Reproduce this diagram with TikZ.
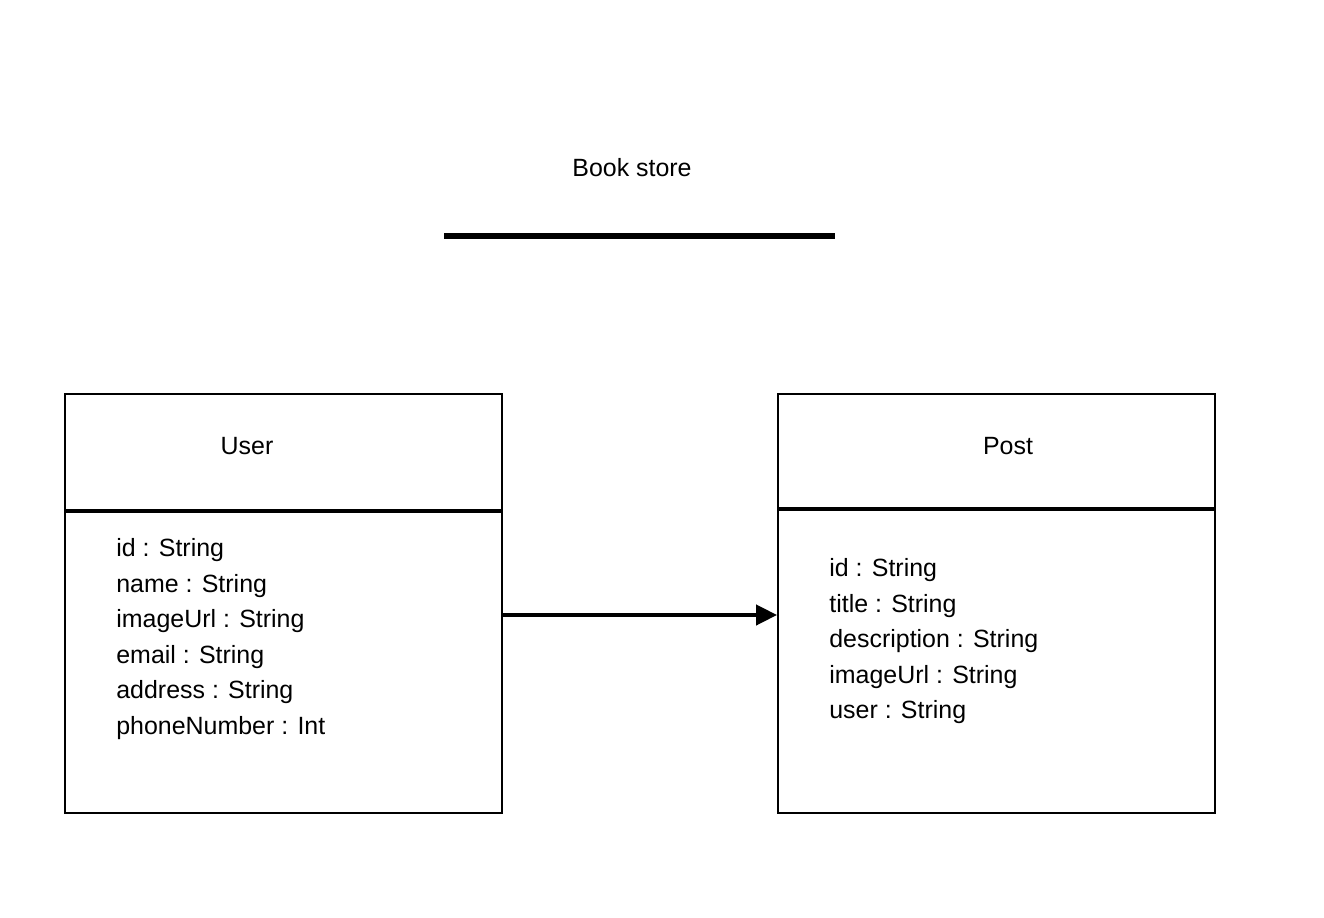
\documentclass[tikz,border=0pt]{standalone}
\usepackage{fontspec}
\setmainfont{Liberation Sans}
\usetikzlibrary{positioning,arrows.meta}

\tikzset{
  classbox/.style={draw, line width=1.1pt, minimum width=8.74cm, minimum height=8.38cm, inner sep=0pt},
  classname/.style={font=\fontsize{14.2pt}{17pt}\selectfont, inner sep=0pt},
  attr/.style={font=\fontsize{14.2pt}{17pt}\selectfont, anchor=west, inner sep=0pt, text height=10pt, text depth=3pt},
  sepline/.style={line width=2.2pt},
  assoc/.style={line width=2.3pt, -{Triangle[length=0.42cm,width=0.4cm]}}
}

\begin{document}
\begin{tikzpicture}[x=0.02cm, y=-0.02cm]
      \useasboundingbox (0,0) rectangle (1324,918);

      % title
      \node[classname] (title) at (632,168) {Book store};
      \coordinate (ruleleft) at (444,236);
      \coordinate (ruleright) at (835,236);
      \draw[line width=3pt] (ruleleft) -- (ruleright);

      % classes
      \node[classbox] (user) at (283.5,603.5) {};
      \node[classbox] (post) at (996.5,603.5) {};

      \node[classname] (username) at (247,446) {User};
      \node[classname] (postname) at (1008,446) {Post};

      \coordinate (usersep) at (0,511);
      \coordinate (postsep) at (0,509);
      \draw[sepline] (user.west |- usersep) -- (user.east |- usersep);
      \draw[sepline] (post.west |- postsep) -- (post.east |- postsep);

	\foreach \a [count=\i] in {id : String, name : String, imageUrl : String,
	  email : String, address : String, phoneNumber : Int}{
	   \node[attr] (userattr\i) at (116,{550.5+35.5*(\i-1)}) {\a};
	}
	\foreach \a [count=\i] in {id : String, title : String, description : String,
	  imageUrl : String, user : String}{
	   \node[attr] (postattr\i) at (829,{570.5+35.5*(\i-1)}) {\a};
	}

      % association
      \coordinate (arrowrow) at (0,615);
      \draw[assoc] (user.east |- arrowrow) -- (post.west |- arrowrow);
\end{tikzpicture}
\end{document}
